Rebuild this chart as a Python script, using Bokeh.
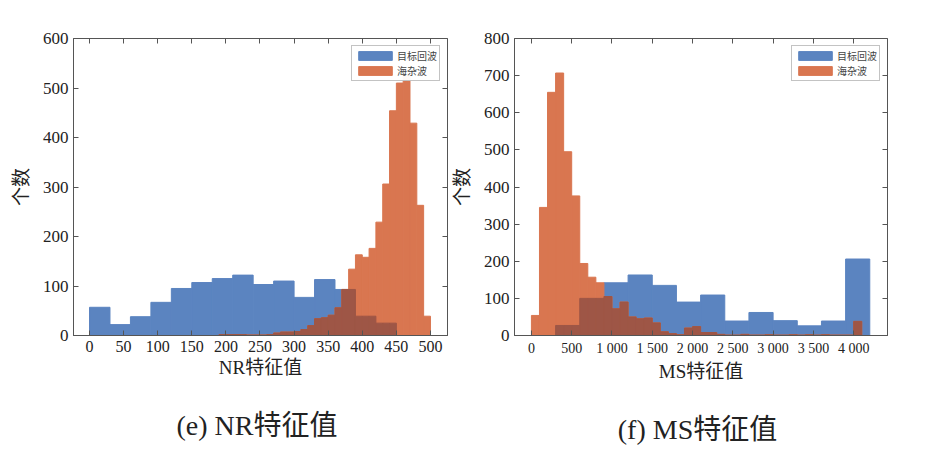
from bokeh.embed import file_html
from bokeh.layouts import row
from bokeh.models import FixedTicker, LinearAxis, Range1d, Title
from bokeh.plotting import figure
from bokeh.resources import INLINE

# NR feature histograms
nr_blue_edges = [0, 30, 60, 90, 120, 150, 180, 210, 240, 270, 300, 330, 360, 390, 420, 450]
nr_blue_counts = [57, 22, 38, 67, 95, 107, 115, 122, 103, 110, 77, 113, 93, 39, 25]
nr_red_edges = list(range(180, 501, 10))
nr_red_counts = [0, 2, 2, 2, 2, 1, 1, 1, 2, 5, 7, 7, 8, 12, 20, 34, 36, 41, 56, 93,
                 134, 163, 158, 176, 229, 306, 454, 510, 527, 429, 263, 39]

# MS feature histograms
ms_blue_edges = [300, 600, 900, 1200, 1500, 1800, 2100, 2400, 2700, 3000, 3300, 3600, 3900, 4200]
ms_blue_counts = [27, 100, 142, 163, 135, 90, 109, 39, 62, 40, 26, 39, 206]
ms_red_edges = list(range(0, 4201, 100))
ms_red_counts = [54, 345, 655, 707, 495, 376, 194, 157, 142, 105, 72, 90, 50, 45, 47, 34,
                 10, 5, 2, 20, 24, 8, 8, 3, 1, 1, 3, 1, 1, 2, 1, 1, 2, 1, 2, 1, 2, 1, 1, 1, 38, 0]

BLUE = "#5b84c0"
RED = "#d97650"
DARK = "#9e5646"
FONT = "Liberation Serif, Noto Sans CJK SC"


def blue_at(x, edges, counts):
    for i in range(len(counts)):
        if edges[i] <= x < edges[i + 1]:
            return counts[i]
    return 0


def panel(be, bc, re_, rc, xr, ymax, xticks, xlabels, xlabel, caption, left_border,
          right_border, width, tick_size):
    p = figure(width=width, height=475, x_range=Range1d(*xr), y_range=Range1d(0, ymax),
               output_backend="svg", toolbar_location=None,
               min_border_left=left_border, min_border_right=right_border,
               min_border_top=38, min_border_bottom=140)
    p.grid.visible = False
    p.outline_line_color = "#555555"
    p.quad(left=be[:-1], right=be[1:], bottom=0, top=bc, color=BLUE, legend_label="目标回波")
    p.quad(left=re_[:-1], right=re_[1:], bottom=0, top=rc, color=RED, legend_label="海杂波")
    ov = [min(h, blue_at((re_[i] + re_[i + 1]) / 2, be, bc)) for i, h in enumerate(rc)]
    p.quad(left=re_[:-1], right=re_[1:], bottom=0, top=ov, color=DARK)
    p.xaxis.ticker = FixedTicker(ticks=xticks)
    p.xaxis.major_label_overrides = dict(zip(xticks, xlabels))
    p.yaxis.ticker = FixedTicker(ticks=list(range(0, ymax + 1, 100)))
    for ax in [p.xaxis[0], p.yaxis[0]]:
        ax.major_tick_in = 5
        ax.major_tick_out = 0
        ax.minor_tick_line_color = None
        ax.axis_line_color = "#555555"
        ax.major_tick_line_color = "#555555"
        ax.major_label_text_font = FONT
        ax.major_label_text_font_size = tick_size
        ax.major_label_text_color = "#222222"
        ax.axis_label_text_font = FONT
        ax.axis_label_text_font_size = "19px"
        ax.axis_label_text_font_style = "normal"
        ax.axis_label_text_color = "#222222"
    p.yaxis.major_label_text_font_size = "17px"
    p.xaxis.axis_label = xlabel
    p.xaxis.axis_label_standoff = 2
    p.yaxis.axis_label = "个数"
    p.yaxis.axis_label_standoff = 8
    top = LinearAxis(ticker=FixedTicker(ticks=xticks), major_label_text_font_size="0px",
                     major_tick_in=5, major_tick_out=0, minor_tick_line_color=None,
                     axis_line_color=None, major_tick_line_color="#555555")
    right = LinearAxis(ticker=FixedTicker(ticks=list(range(0, ymax + 1, 100))),
                       major_label_text_font_size="0px", major_tick_in=5, major_tick_out=0,
                       minor_tick_line_color=None, axis_line_color=None,
                       major_tick_line_color="#555555")
    p.add_layout(top, "above")
    p.add_layout(right, "right")
    p.add_layout(Title(text=caption, align="center", text_font=FONT, text_font_size="28px",
                       text_font_style="normal", text_color="#222222", standoff=54), "below")
    p.legend.location = "top_right"
    p.legend.label_text_font = FONT
    p.legend.label_text_font_size = "10px"
    p.legend.glyph_width = 42
    p.legend.glyph_height = 11
    p.legend.label_height = 11
    p.legend.spacing = 0
    p.legend.padding = 2
    p.legend.margin = 7
    p.legend.border_line_color = "#888888"
    p.legend.label_standoff = 1
    return p


p1 = panel(nr_blue_edges, nr_blue_counts, nr_red_edges, nr_red_counts, (-23.5, 525), 600,
           list(range(0, 501, 50)), [str(t) for t in range(0, 501, 50)],
           "NR特征值", "(e)  NR特征值", 73, 1, 448, "16px")
ms_ticks = list(range(0, 4001, 500))
ms_labels = ["0", "500", "1 000", "1 500", "2 000", "2 500", "3 000", "3 500", "4 000"]
p2 = panel(ms_blue_edges, ms_blue_counts, ms_red_edges, ms_red_counts, (-210, 4420), 800,
           ms_ticks, ms_labels, "MS特征值", "(f)  MS特征值", 40, 12, 451, "14px")

p = row(p1, p2)
open("out.html", "w").write(file_html(p, INLINE))
